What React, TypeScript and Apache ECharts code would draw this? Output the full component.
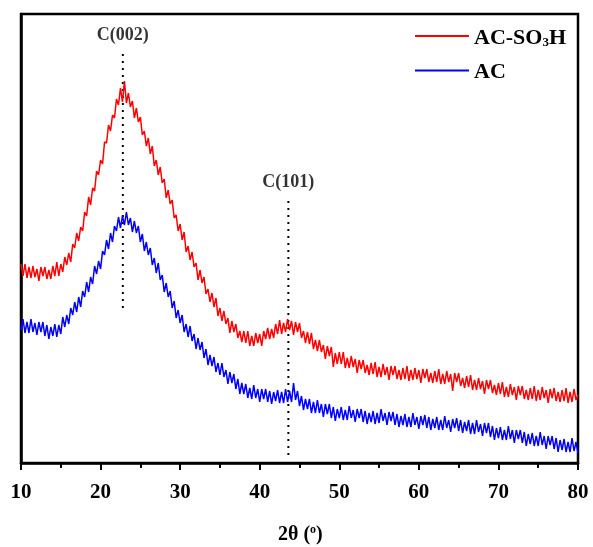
import React, { useEffect, useRef } from "react";
import * as echarts from "echarts";

const startAngle = 10;
const stepAngle = 0.25;

// AC-SO3H intensity (a.u.), 10° to 80° every 0.25°
const acSO3H = [
  199,187,199,185, 196,185,197,186, 194,182,196,187, 196,184,193,184,
  197,187,201,187, 199,191,206,198, 210,201,219,215, 230,222,236,232,
  251,247,266,258, 275,272,292,288, 303,299,321,320, 338,332,348,345,
  364,358,375,361, 382,360,370,356, 362,345,355,341, 346,328,332,317,
  325,309,317,297, 303,288,296,280, 284,265,273,259, 263,245,248,232,
  239,223,231,211, 217,203,211,196, 200,183,193,180, 186,169,174,161,
  170,156,165,147, 155,142,152,139, 145,130,142,131, 139,125,132,121,
  132,120,132,117, 127,117,130,120, 129,117,132,124, 135,124,134,125,
  139,129,143,129, 140,131,144,133, 142,128,141,131, 140,125,132,120,
  131,119,130,114, 123,112,123,111, 118,104,117,107, 116,96,110,99,
  111,99,111,95, 105,95,107,96, 104,90,103,94, 103,90,98,88,
  100,89,101,86, 96,86,99,88, 96,83,97,88, 97,84,93,83,
  95,84,97,82, 93,83,95,84, 93,80,94,85, 94,81,90,80,
  92,81,94,79, 89,79,92,81, 89,72,90,81, 90,77,85,75,
  87,76,88,73, 83,73,85,74, 82,69,83,74, 83,70,78,68,
  80,69,81,66, 76,66,79,68, 76,63,77,68, 77,64,73,63,
  75,64,77,62, 73,63,76,65, 73,60,74,65, 75,62,71,61,
  73,62,75,60, 71,61,74,63,
  68,
];

// AC intensity (a.u.), 10° to 80° every 0.25°
const acPlain = [
  133,144,130,141, 130,144,131,140, 128,141,131,141, 127,138,124,136,
  127,139,126,138, 129,146,136,148, 139,155,148,161, 151,166,156,172,
  166,181,171,186, 179,197,189,202, 194,212,208,223, 214,230,221,237,
  232,246,235,247, 238,251,238,245, 231,242,230,237, 221,229,212,221,
  208,215,198,205, 190,200,183,188, 171,180,166,172, 155,162,145,153,
  140,148,131,139, 126,137,122,129, 114,125,113,121, 105,114,98,108,
  97,106,91,100, 88,100,86,93, 79,91,80,89, 74,84,69,80,
  69,79,65,75, 64,78,65,74, 61,74,64,74, 61,72,59,71,
  62,73,60,71, 60,74,61,72, 61,80,63,72, 57,67,53,64,
  54,64,50,61, 50,63,50,59, 46,59,49,59, 45,56,42,54,
  45,56,43,53, 43,57,45,53, 41,54,45,54, 41,52,39,50,
  41,52,39,50, 40,54,42,50, 38,51,42,51, 38,49,36,47,
  38,49,36,46, 36,50,38,46, 34,47,38,48, 35,46,33,44,
  35,46,33,43, 33,47,35,43, 31,44,35,45, 32,43,30,41,
  32,43,29,40, 29,43,31,39, 27,40,30,40, 26,37,23,35,
  25,36,23,33, 23,37,24,33, 20,33,24,33, 20,31,17,29,
  19,30,17,27, 17,31,18,27, 14,27,18,27, 14,25,11,23,
  13,24,11,21, 11,25,12,21,
  10,
];

const peakLabels = ["C(002)", "C(101)"];
const peakPositions = [22.8, 43.6];
const peakLineBottom = [155, 8];
const peakLineTop = [413, 266];

const xTicks = [10, 20, 30, 40, 50, 60, 70, 80];

const FONT = "'Liberation Serif', 'Times New Roman', serif";

export default function App() {
  const ref = useRef<HTMLDivElement>(null);

  useEffect(() => {
    if (!ref.current) return;
    const chart = echarts.init(ref.current, null, { renderer: "svg" });
    const toPairs = (arr: number[]) =>
      arr.map((v, i) => [startAngle + i * stepAngle, v]);

    const peakSeries: any[] = [];
    peakLabels.forEach((name, k) => {
      peakSeries.push({
        type: "line",
        name: "peak" + k,
        data: [
          [peakPositions[k], peakLineBottom[k]],
          [peakPositions[k], peakLineTop[k]],
        ],
        showSymbol: false,
        symbol: "none",
        lineStyle: { color: "#000", width: 2, type: [2, 5] },
        silent: true,
        z: 1,
      });
      peakSeries.push({
        type: "scatter",
        name: "peakLabel" + k,
        data: [[peakPositions[k], peakLineTop[k]]],
        symbolSize: 0,
        silent: true,
        label: {
          show: true,
          position: "top",
          distance: 7,
          formatter: name,
          color: "#000",
          fontFamily: FONT,
          fontWeight: "bold",
          fontSize: 18,
        },
      });
    });

    chart.setOption({
      animation: false,
      grid: {
        left: 21,
        right: 15,
        top: 14,
        bottom: 84,
        show: true,
        borderColor: "#000",
        borderWidth: 2.5,
        backgroundColor: "transparent",
      },
      legend: {
        orient: "vertical",
        left: 409,
        top: 20,
        itemWidth: 54,
        itemHeight: 16,
        itemGap: 12,
        itemStyle: { opacity: 0, borderWidth: 0 },
        data: ["AC-SO3H", "AC"],
        formatter: (n: string) =>
          n === "AC-SO3H" ? "{a|AC-SO}{s|3}{a|H}" : "{a|AC}",
        textStyle: {
          color: "#000",
          rich: {
            a: { fontFamily: FONT, fontWeight: "bold", fontSize: 22, color: "#000" },
            s: {
              fontFamily: FONT,
              fontWeight: "bold",
              fontSize: 13,
              color: "#000",
              verticalAlign: "bottom",
              padding: [10, 0, 0, 0],
            },
          },
        },
      },
      xAxis: {
        type: "value",
        min: 10,
        max: 80,
        interval: 10,
        axisLine: { show: true, onZero: false, lineStyle: { color: "#000", width: 2.5 } },
        axisTick: { show: true, inside: false, length: 7, lineStyle: { color: "#000", width: 2 } },
        minorTick: { show: true, splitNumber: 2, length: 5, lineStyle: { color: "#000", width: 2 } },
        splitLine: { show: false },
        axisLabel: {
          color: "#000",
          fontFamily: FONT,
          fontWeight: "bold",
          fontSize: 21,
          margin: 17,
          customValues: xTicks,
        },
      },
      yAxis: {
        type: "value",
        min: 0,
        max: 449,
        axisLine: { show: true, lineStyle: { color: "#000", width: 2.5 } },
        axisTick: { show: false },
        axisLabel: { show: false },
        splitLine: { show: false },
      },
      graphic: [
        {
          type: "text",
          left: 278,
          top: 523,
          style: {
            text: "{b|2θ (}{p|o}{b|)}",
            rich: {
              b: { fontFamily: FONT, fontWeight: "bold", fontSize: 20, fill: "#000" },
              p: {
                fontFamily: FONT,
                fontWeight: "bold",
                fontSize: 12,
                fill: "#000",
                verticalAlign: "top",
                padding: [0, 0, 8, 0],
              },
            },
          },
        },
      ],
      series: [
        {
          type: "line",
          name: "AC-SO3H",
          data: toPairs(acSO3H),
          showSymbol: false,
          symbol: "none",
          color: "#ff0000",
          lineStyle: { color: "#ff0000", width: 1.5 },
          z: 3,
        },
        {
          type: "line",
          name: "AC",
          data: toPairs(acPlain),
          showSymbol: false,
          symbol: "none",
          color: "#0000ff",
          lineStyle: { color: "#0000ff", width: 1.5 },
          z: 3,
        },
        ...peakSeries,
      ],
    });
    return () => chart.dispose();
  }, []);

  return (
    <div
      ref={ref}
      style={{ position: "fixed", left: 0, top: 0, width: 593, height: 547 }}
    />
  );
}
